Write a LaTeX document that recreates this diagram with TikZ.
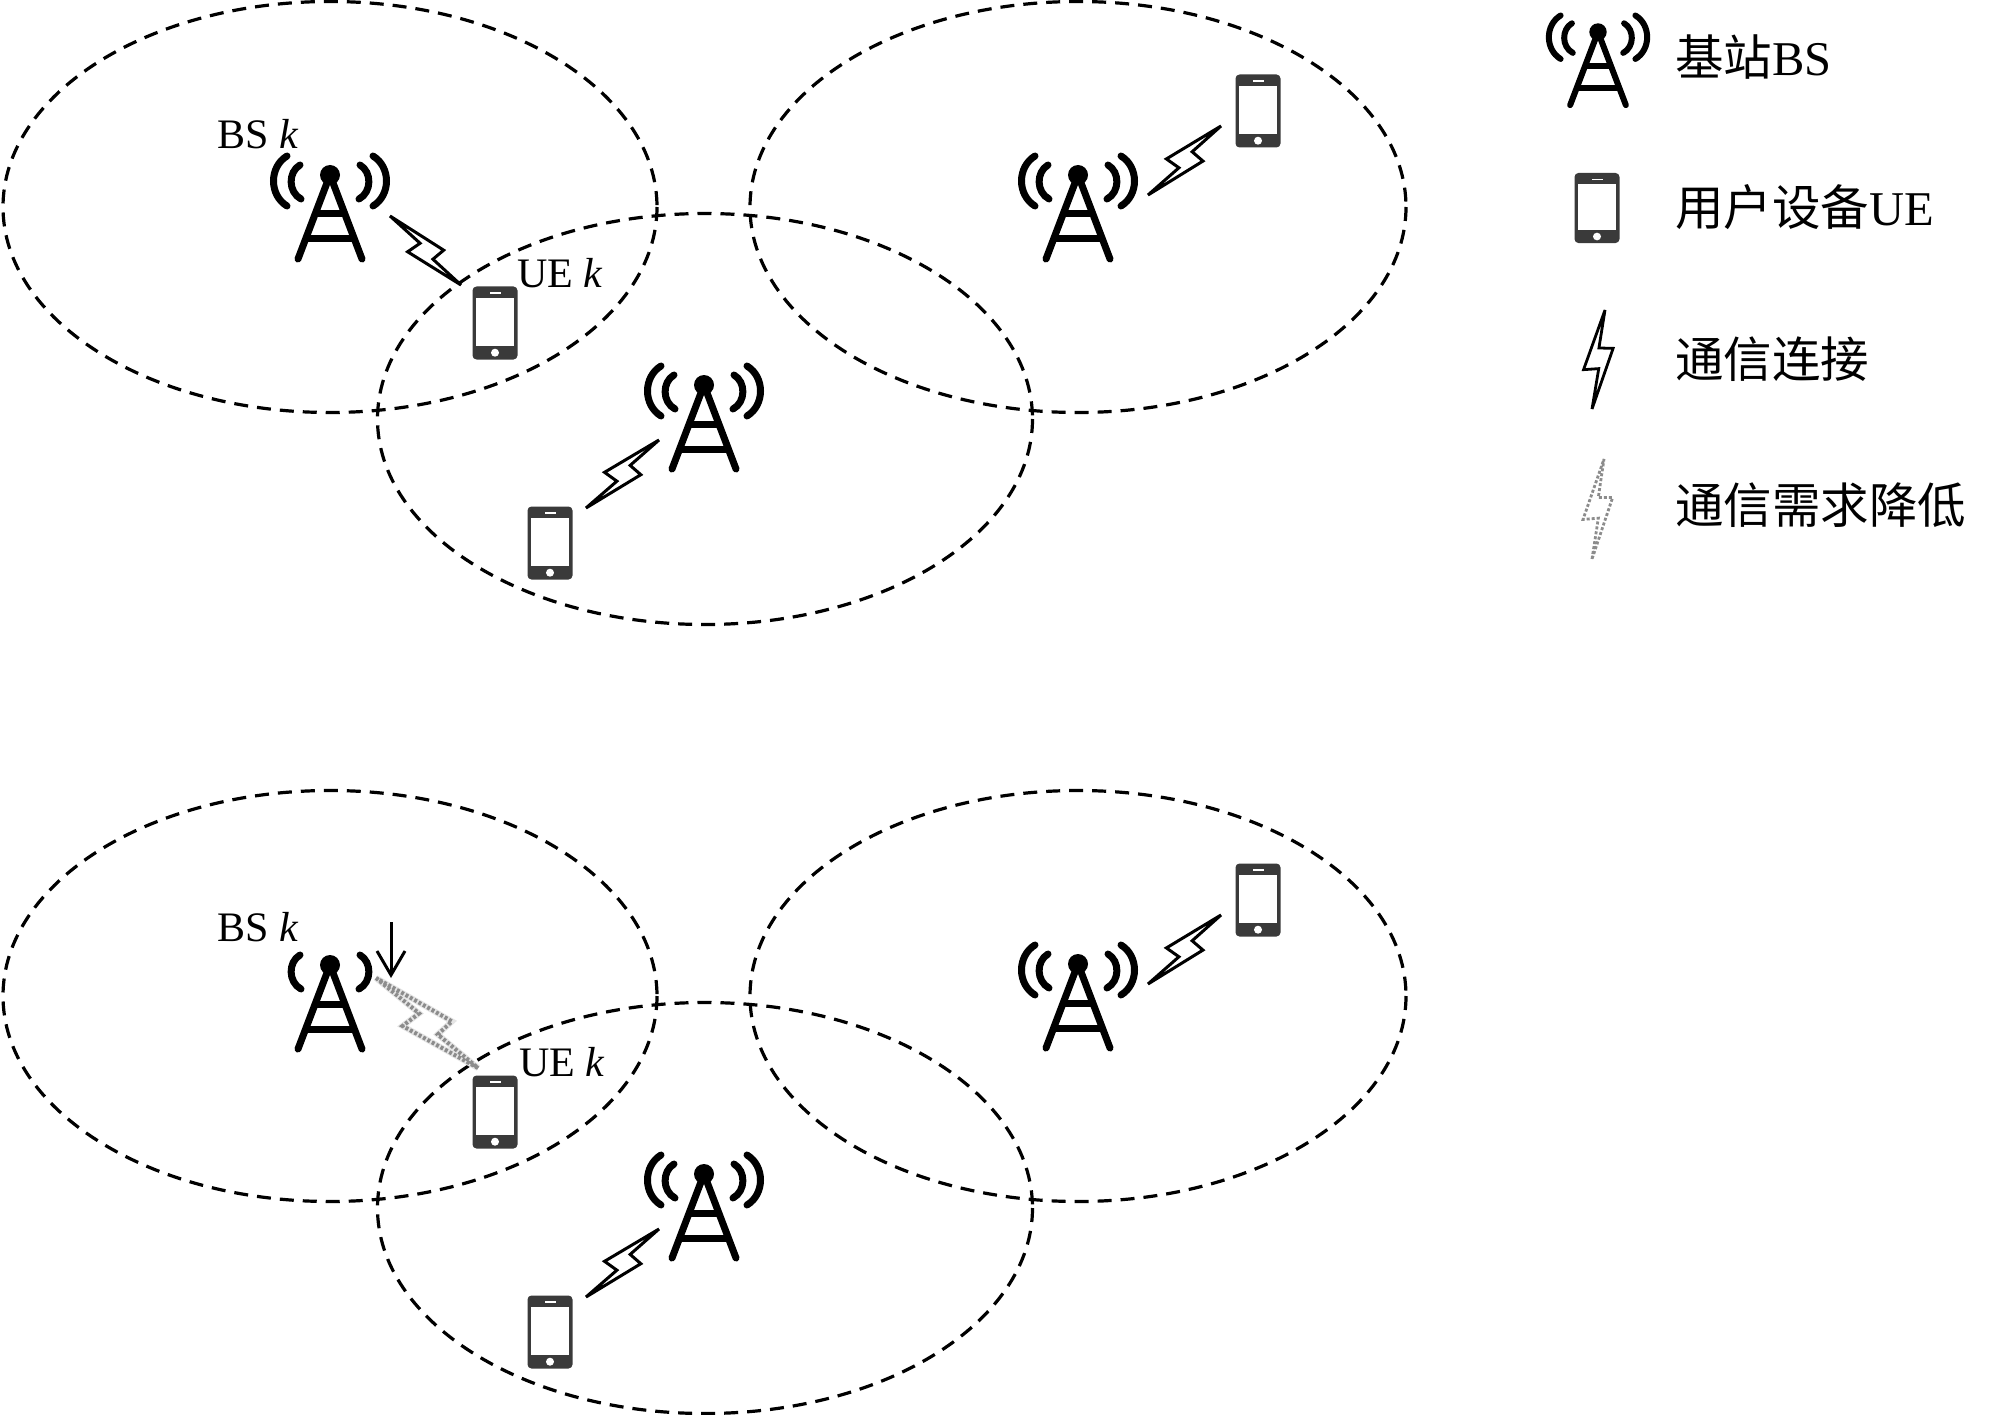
\documentclass[tikz,border=0pt]{standalone}
\usepackage{fontspec}
\setmainfont{Liberation Serif}
\newfontfamily\cjk{Noto Sans CJK SC}
\usetikzlibrary{arrows.meta,calc}
\definecolor{phonecol}{HTML}{3A3A3A}
\definecolor{fadecol}{HTML}{8C8C8C}
\newcommand{\bsmast}{
  \draw[line cap=round] (-32,84) -- (0,0) -- (32,84);
  \draw (-15,39) -- (15,39);
  \draw (-24.5,64) -- (24.5,64);
  \fill (0,0) circle (10);
  \draw[line cap=round] (-30,-10) .. controls (-42,-3) and (-42,17) .. (-29,24);
  \draw[line cap=round] (30,-10) .. controls (42,-3) and (42,17) .. (29,24);
}
\newcommand{\linkbolt}[4]{
  \draw[#1] (#2) -- ($(#2)!.41!2*#4:(#3)$) -- ($(#2)!.403!-19.6*#4:(#3)$)
    -- (#3) -- ($(#2)!.615!-1*#4:(#3)$) -- ($(#2)!.643!11.7*#4:(#3)$) -- cycle;
}
\tikzset{
  bslow/.pic={\bsmast},
  bs/.pic={\bsmast
    \draw[line cap=round] (-43,-19) .. controls (-61,-8) and (-61,20) .. (-43,31);
    \draw[line cap=round] (43,-19) .. controls (61,-8) and (61,20) .. (43,31);
  },
  ue/.pic={
    \fill[phonecol,rounded corners=4pt] (-22.5,-36.5) rectangle (22.5,36.5);
    \fill[white] (-19,-24.7) rectangle (19,23);
    \fill[white] (-5.5,-30.7) rectangle (5.5,-28.7);
    \fill[white] (0,29.7) circle (4);
  },
  cell/.style={line width=3.2pt,dash pattern=on 14pt off 9pt},
  mast/.style={line width=7pt},
  link/.style={line width=3pt,line join=miter},
  fade/.style={draw=fadecol,line width=4pt,dash pattern=on 3pt off 2pt,
    preaction={draw=black!10,line width=6pt,solid}},
  lbl/.style={font=\fontsize{42}{42}\selectfont,anchor=base west,inner sep=0pt},
  leg/.style={font=\fontsize{48.5}{48.5}\selectfont,anchor=base west,inner sep=0pt},
}
\begin{document}
\begin{tikzpicture}[x=1pt,y=-1pt]
\useasboundingbox (0,0) rectangle (2000,1415);
\foreach \dy/\p in {0/a,789/b}{
  \begin{scope}[shift={(0,\dy)}]
    \draw[cell] (330,207) ellipse (327 and 205.5);
    \draw[cell] (1078,207) ellipse (328 and 205.5);
    \draw[cell] (705,419) ellipse (327.5 and 205.5);
    \pic[mast] (bsr\p) at (1078,175) {bs};
    \pic[mast] (bsm\p) at (704,385) {bs};
    \pic (uek\p) at (495,323) {ue};
    \pic (uer\p) at (1258,111) {ue};
    \pic (uem\p) at (550,543) {ue};
    \coordinate (lra\p) at (1148,195);
    \coordinate (lrb\p) at (1221,126);
    \coordinate (lma\p) at (586,508);
    \coordinate (lmb\p) at (659,440);
    \linkbolt{link}{lra\p}{lrb\p}{-1}
    \linkbolt{link}{lma\p}{lmb\p}{-1}
  \end{scope}
}
\pic[mast] (bska) at (330,175) {bs};
\pic[mast] (bskb) at (330,965) {bslow};

\coordinate (lka) at (390,216);
\coordinate (lkb) at (461,285);
\linkbolt{link}{lka}{lkb}{1}
\coordinate (lfa) at (376,978);
\coordinate (lfb) at (478,1068);
\linkbolt{fade}{lfa}{lfb}{1}

\coordinate (dropa) at (391,922);
\coordinate (dropb) at (391,978);
\draw[line width=3pt,-{Straight Barb[length=24pt,width=28pt]}] (dropa) -- (dropb);

\node[lbl] (bsknamea) at (217,149) {BS \textit{k}};
\node[lbl] (ueknamea) at (517,288) {UE \textit{k}};
\node[lbl] (bsknameb) at (217,941) {BS \textit{k}};
\node[lbl] (ueknameb) at (519,1076) {UE \textit{k}};

\pic[line width=6pt,scale=.87] (legbs) at (1598,32) {bs};
\pic[yscale=.96] (legue) at (1597,208) {ue};
\coordinate (legla) at (1592,409);
\coordinate (leglb) at (1605,310);
\linkbolt{line width=2.8pt,line join=miter}{legla}{leglb}{-1}
\coordinate (legfa) at (1592,559);
\coordinate (legfb) at (1604,459);
\linkbolt{draw=fadecol,line width=2.8pt,dash pattern=on 3pt off 2pt}{legfa}{legfb}{-1}

\node[leg] (legbsname) at (1675,76) {{\cjk 基站}BS};
\node[leg] (leguename) at (1675,226) {{\cjk 用户设备}UE};
\node[leg] (leglname) at (1675,377) {\cjk 通信连接};
\node[leg] (legfname) at (1675,523) {\cjk 通信需求降低};
\end{tikzpicture}
\end{document}
